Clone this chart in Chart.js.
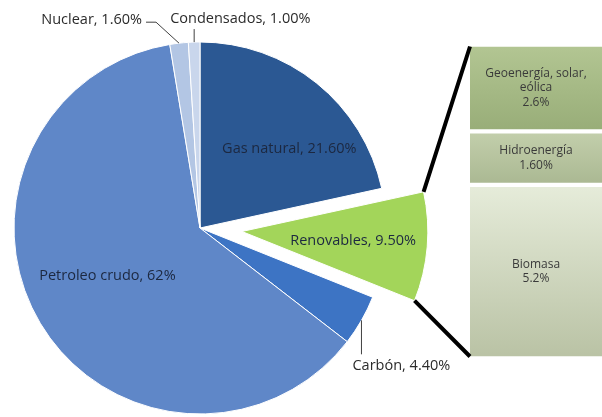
<!DOCTYPE html>
<html>
<head>
<meta charset="utf-8">
<script src="https://cdn.jsdelivr.net/npm/chart.js@4/dist/chart.umd.min.js"></script>
<style>
  body { margin: 0; background: #fff; }
  #wrap { position: relative; width: 602px; height: 417px; }
  #wrap canvas { position: absolute; left: 0; top: 0; }
</style>
</head>
<body>
<div id="wrap">
  <canvas id="pieChart" width="602" height="417"></canvas>
  <canvas id="barChart" width="602" height="417"></canvas>
</div>
<script>
// Energy sources (pie)
const sources = ['Gas natural', 'Renovables', 'Carbón', 'Petroleo crudo', 'Nuclear', 'Condensados'];
const shares = [21.6, 9.5, 4.4, 62, 1.6, 1.0];
const shareText = ['21.60%', '9.50%', '4.40%', '62%', '1.60%', '1.00%'];

// Renewables breakdown (bar), bottom to top
const renewables = ['Biomasa', 'Hidroenergía', 'Geoenergía, solar, eólica'];
const renewableShares = [5.2, 1.6, 2.6];
const renewableText = ['5.2%', '1.60%', '2.6%'];

const FONT = '"Open Sans", sans-serif';
const pieColors = ['#2b5893', '#a3d55a', '#3d74c4', '#5f87c8', '#b3c6e4', '#c9d6ec'];
const explodeIndex = 1;
const explodeBy = 42;

// where each pie label goes: inside (angle from top + radius fraction) or outside with a leader
const pieLabelSpots = [
  { ang: 48.6, rf: 0.64 },
  { rf: 0.6 },
  { lead: [[0, 34]], dx: -9, dy: 46, align: 'left' },
  { ang: 242.7, rf: 0.56 },
  { lead: [[-23, -21], [-33, -21]], dx: -37, dy: -23, align: 'right' },
  { lead: [[0, -13]], dx: -24, dy: -23, align: 'left' }
];

const explodePlugin = {
  id: 'explode',
  afterDatasetUpdate(chart, args) {
    const arc = args.meta.data[explodeIndex];
    if (!arc) return;
    const mid = (arc.startAngle + arc.endAngle) / 2;
    arc.x += Math.cos(mid) * explodeBy;
    arc.y += Math.sin(mid) * explodeBy;
  }
};

const pieLabels = {
  id: 'pieLabels',
  afterDatasetsDraw(chart) {
    const ctx = chart.ctx;
    const arcs = chart.getDatasetMeta(0).data;
    ctx.save();
    ctx.font = '14.5px ' + FONT;
    ctx.textBaseline = 'middle';
    arcs.forEach((arc, i) => {
      const spot = pieLabelSpots[i];
      const text = sources[i] + ', ' + shareText[i];
      const mid = (arc.startAngle + arc.endAngle) / 2;
      if (spot.lead) {
        const ax = arc.x + Math.cos(mid) * arc.outerRadius;
        const ay = arc.y + Math.sin(mid) * arc.outerRadius;
        ctx.strokeStyle = '#404040';
        ctx.lineWidth = 1;
        ctx.beginPath();
        ctx.moveTo(ax, ay);
        spot.lead.forEach(p => ctx.lineTo(ax + p[0], ay + p[1]));
        ctx.stroke();
        ctx.fillStyle = '#2b2b2b';
        ctx.textAlign = spot.align;
        ctx.fillText(text, ax + spot.dx, ay + spot.dy);
      } else {
        const a = spot.ang !== undefined ? (spot.ang - 90) * Math.PI / 180 : mid;
        const r = arc.outerRadius * spot.rf;
        ctx.fillStyle = '#1c2840';
        ctx.textAlign = 'center';
        ctx.fillText(text, arc.x + Math.cos(a) * r, arc.y + Math.sin(a) * r);
      }
    });
    ctx.restore();
  }
};

const pieChart = new Chart(document.getElementById('pieChart'), {
  type: 'pie',
  data: {
    labels: sources,
    datasets: [{
      data: shares,
      backgroundColor: pieColors,
      borderColor: '#ffffff',
      borderWidth: 1,
      clip: false
    }]
  },
  options: {
    responsive: false,
    animation: false,
    radius: 186,
    layout: { padding: { left: 0, right: 202, top: 39, bottom: 0 } },
    plugins: { legend: { display: false }, tooltip: { enabled: false } }
  },
  plugins: [explodePlugin, pieLabels]
});

// gradients for the stacked bar segments
const barShades = [['#e6ecda', '#b9c2a4'], ['#c3cfac', '#aab892'], ['#b3c693', '#98ad78']];
function barGradient(context) {
  const chart = context.chart;
  const i = context.datasetIndex;
  const y = chart.scales.y;
  if (!y) return barShades[i][0];
  let below = 0;
  for (let k = 0; k < i; k++) below += renewableShares[k];
  const top = y.getPixelForValue(below + renewableShares[i]);
  const bottom = y.getPixelForValue(below);
  if (!isFinite(top) || !isFinite(bottom) || top === bottom) return barShades[i][0];
  const g = chart.ctx.createLinearGradient(0, top, 0, bottom);
  g.addColorStop(0, barShades[i][0]);
  g.addColorStop(1, barShades[i][1]);
  return g;
}

function wrapText(ctx, text, maxW) {
  const words = text.split(' ');
  const lines = [];
  let cur = '';
  words.forEach(w => {
    const test = cur ? cur + ' ' + w : w;
    if (cur && ctx.measureText(test).width > maxW) {
      lines.push(cur);
      cur = w;
    } else {
      cur = test;
    }
  });
  if (cur) lines.push(cur);
  return lines;
}

const barLabels = {
  id: 'barLabels',
  afterDatasetsDraw(chart) {
    const ctx = chart.ctx;
    ctx.save();
    ctx.font = '12px ' + FONT;
    ctx.fillStyle = '#3a3a3a';
    ctx.textAlign = 'center';
    ctx.textBaseline = 'middle';
    chart.data.datasets.forEach((ds, i) => {
      const el = chart.getDatasetMeta(i).data[0];
      const lines = wrapText(ctx, renewables[i], 115).concat([renewableText[i]]);
      const lh = 14.5;
      const cy = (el.y + el.base) / 2 - (lines.length - 1) * lh / 2;
      lines.forEach((l, k) => ctx.fillText(l, el.x, cy + k * lh));
    });
    ctx.restore();
  }
};

// black connector lines from the exploded slice to the bar
const connectors = {
  id: 'connectors',
  afterDatasetsDraw(chart) {
    const arc = pieChart.getDatasetMeta(0).data[explodeIndex];
    const n = chart.data.datasets.length;
    const topEl = chart.getDatasetMeta(n - 1).data[0];
    const botEl = chart.getDatasetMeta(0).data[0];
    const left = topEl.x - topEl.width / 2;
    const r = arc.outerRadius;
    const ctx = chart.ctx;
    ctx.save();
    ctx.strokeStyle = '#000';
    ctx.lineWidth = 4;
    ctx.beginPath();
    ctx.moveTo(arc.x + Math.cos(arc.startAngle) * r, arc.y + Math.sin(arc.startAngle) * r);
    ctx.lineTo(left, topEl.y + 2);
    ctx.moveTo(arc.x + Math.cos(arc.endAngle) * r, arc.y + Math.sin(arc.endAngle) * r);
    ctx.lineTo(left, botEl.base - 2);
    ctx.stroke();
    ctx.restore();
  }
};

new Chart(document.getElementById('barChart'), {
  type: 'bar',
  data: {
    labels: ['Renovables'],
    datasets: renewables.map((name, i) => ({
      label: name,
      data: [renewableShares[i]],
      backgroundColor: barGradient,
      borderColor: '#ffffff',
      borderWidth: { top: 2.5, bottom: 2.5, left: 0, right: 0 },
      borderSkipped: false,
      categoryPercentage: 1,
      barPercentage: 1
    }))
  },
  options: {
    responsive: false,
    animation: false,
    layout: { padding: { left: 470, right: 0, top: 44.5, bottom: 58.5 } },
    scales: {
      x: { stacked: true, display: false },
      y: { stacked: true, display: false, min: 0, max: renewableShares.reduce((a, b) => a + b, 0) }
    },
    plugins: { legend: { display: false }, tooltip: { enabled: false } }
  },
  plugins: [connectors, barLabels]
});
</script>
</body>
</html>
